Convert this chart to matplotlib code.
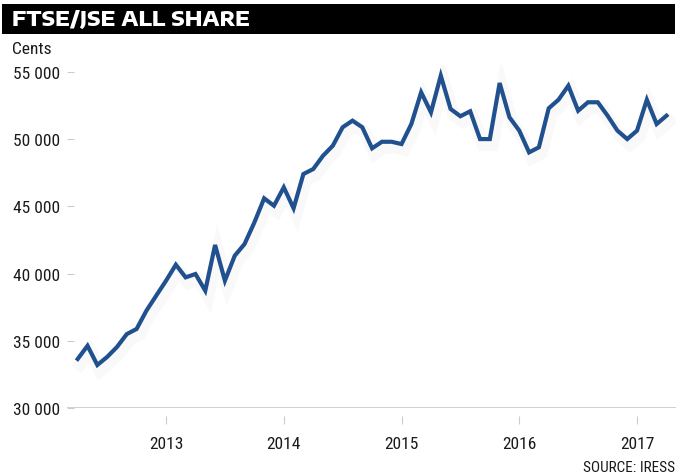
import numpy as np
import matplotlib
matplotlib.use('Agg')
import matplotlib.pyplot as plt
import matplotlib.patheffects as pe
from matplotlib.ticker import FuncFormatter

# monthly closes, Apr 2012 .. Apr 2017
start_year = 2012
start_month = 4
values = [33650, 34630, 33200, 33800, 34540, 35500, 35880, 37240, 38360,
          39470, 40660, 39720, 39970, 38730, 42130, 39470, 41330, 42200,
          43800, 45600, 45050, 46420, 44860, 47410, 47780, 48770, 49520,
          50890, 51380, 50890, 49320, 49810, 49810, 49640, 51130, 53490,
          52000, 54730, 52250, 51710, 52080, 50010, 50010, 54180, 51630,
          50640, 49020, 49400, 52300, 52940, 53980, 52120, 52750, 52750,
          51750, 50640, 50010, 50640, 52940, 51130, 51750]
year_ticks = [2013, 2014, 2015, 2016, 2017]
y_ticks = [30000, 35000, 40000, 45000, 50000, 55000]

title = 'FTSE/JSE ALL SHARE'
unit = 'Cents'
source = 'SOURCE: IRESS'

narrow = ['Roboto Condensed', 'Barlow Semi Condensed', 'Archivo Narrow', 'DejaVu Sans']
wide = ['Encode Sans Expanded', 'DejaVu Sans']
line_col = '#21508f'
txt_col = '#1a1a1a'

t = start_year + (start_month - 1 + np.arange(len(values))) / 12.0

fig = plt.figure(figsize=(6.76, 4.77), dpi=100)
ax = fig.add_axes([67/676, 1-409/477, 1-67/676, (409-66.3)/477])

ax.plot(t, values, color=line_col, lw=3.0, solid_joinstyle='miter',
        path_effects=[pe.SimpleLineShadow(offset=(2, -4), shadow_color='#999999', alpha=0.06, linewidth=9),
                      pe.Normal()])

ax.set_xlim(2012.159, 2017.331)
ax.set_ylim(30000, 55500)
ax.axhline(30000, color='#c8c8c8', lw=1.2, zorder=1)

for s in ['top', 'right', 'left']:
    ax.spines[s].set_visible(False)
ax.spines['bottom'].set_position(('outward', 6))
ax.spines['bottom'].set_visible(False)

ax.set_xticks(year_ticks)
ax.set_xticklabels([str(y) for y in year_ticks], family=narrow, fontsize=12.5, color=txt_col)
ax.tick_params(axis='x', direction='out', length=6, width=0.8, color='#cccccc', pad=8)

ax.set_yticks(y_ticks)
ax.yaxis.set_major_formatter(FuncFormatter(lambda v, p: '{:,}'.format(int(v)).replace(',', ' ')))
for lab in ax.get_yticklabels():
    lab.set_family(narrow)
    lab.set_fontsize(12.5)
    lab.set_color(txt_col)
ax.tick_params(axis='y', direction='in', length=5, width=0.8, color='#cccccc', pad=5)

# title bar
fig.patches.append(plt.Rectangle((2/676, 1-35/477), 673/676, 30/477, transform=fig.transFigure,
                                 facecolor='black', edgecolor='none'))
fig.text(12/676, 1-20/477, title, family=wide, color='white', fontsize=14.5, fontweight='heavy',
         va='center', ha='left')
fig.text(12/676, 1-49/477, unit, family=narrow, fontsize=12.5, color=txt_col, va='center', ha='left')
fig.text(675/676, 1-468/477, source, family=narrow, fontsize=11, color=txt_col, va='center', ha='right')

fig.savefig('out.png', dpi=100)
